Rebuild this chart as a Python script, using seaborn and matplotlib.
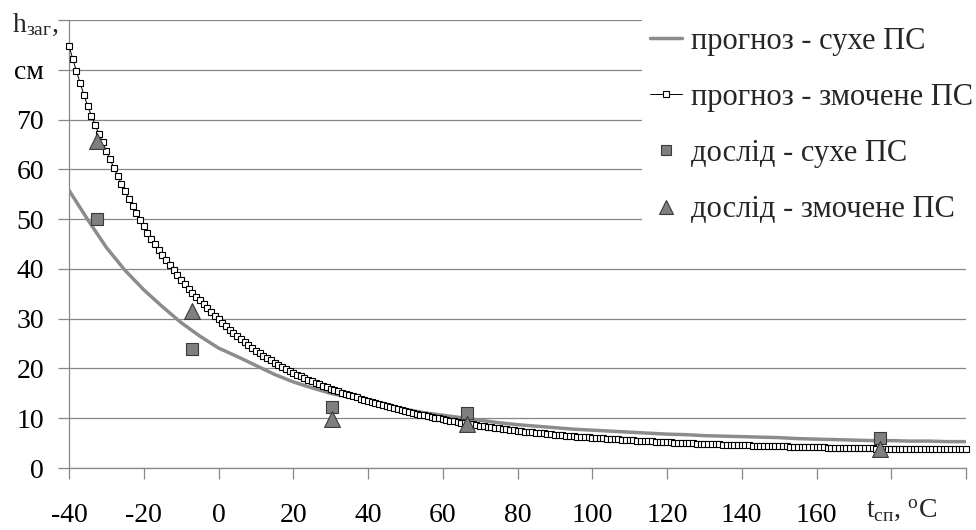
import matplotlib
matplotlib.use("Agg")
import matplotlib.pyplot as plt
import seaborn as sns
import pandas as pd
from matplotlib.lines import Line2D

# ---------------- data ----------------
t_wet = list(range(-40, 201))          # forecast, wetted surface: one point per degree
h_wet = [
    84.8, 82.2, 79.7, 77.3, 74.9, 72.7, 70.8, 68.9, 67.1, 65.4, 63.7,
    62.0, 60.3, 58.7, 57.1, 55.6, 54.1, 52.6, 51.2, 49.9, 48.6,
    47.3, 46.1, 44.9, 43.8, 42.8, 41.8, 40.8, 39.7, 38.7, 37.8,
    36.9, 36.0, 35.2, 34.4, 33.7, 32.9, 32.1, 31.3, 30.6, 29.9,
    29.2, 28.5, 27.8, 27.1, 26.5, 25.9, 25.3, 24.7, 24.2, 23.6,
    23.1, 22.6, 22.1, 21.6, 21.1, 20.7, 20.3, 19.9, 19.5, 19.1,
    18.7, 18.4, 18.0, 17.7, 17.4, 17.1, 16.8, 16.5, 16.2, 15.9,
    15.6, 15.4, 15.1, 14.9, 14.6, 14.4, 14.2, 13.9, 13.7, 13.5,
    13.3, 13.1, 12.9, 12.7, 12.5, 12.3, 12.1, 11.9, 11.7, 11.5,
    11.3, 11.1, 10.9, 10.7, 10.6, 10.4, 10.3, 10.1, 10.0, 9.8,
    9.7, 9.5, 9.4, 9.3, 9.1, 9.0, 8.9, 8.8, 8.6, 8.5,
    8.4, 8.3, 8.2, 8.1, 8.0, 7.9, 7.8, 7.7, 7.6, 7.5,
    7.4, 7.3, 7.3, 7.2, 7.1, 7.0, 7.0, 6.9, 6.8, 6.7,
    6.7, 6.6, 6.5, 6.5, 6.4, 6.3, 6.3, 6.2, 6.2, 6.1,
    6.1, 6.0, 6.0, 5.9, 5.9, 5.8, 5.8, 5.7, 5.7, 5.6,
    5.6, 5.5, 5.5, 5.4, 5.4, 5.4, 5.3, 5.3, 5.2, 5.2,
    5.2, 5.1, 5.1, 5.1, 5.0, 5.0, 5.0, 4.9, 4.9, 4.9,
    4.9, 4.8, 4.8, 4.8, 4.7, 4.7, 4.7, 4.7, 4.6, 4.6,
    4.6, 4.6, 4.5, 4.5, 4.5, 4.5, 4.5, 4.4, 4.4, 4.4,
    4.4, 4.4, 4.3, 4.3, 4.3, 4.3, 4.3, 4.2, 4.2, 4.2,
    4.2, 4.2, 4.1, 4.1, 4.1, 4.1, 4.1, 4.1, 4.0, 4.0,
    4.0, 4.0, 4.0, 4.0, 4.0, 3.9, 3.9, 3.9, 3.9, 3.9,
    3.9, 3.9, 3.9, 3.9, 3.8, 3.8, 3.8, 3.8, 3.8, 3.8,
    3.8, 3.8, 3.8, 3.8, 3.8, 3.8, 3.8, 3.8, 3.8, 3.8,
]

t_dry = list(range(-40, 201, 5))       # forecast, dry surface
h_dry = [
    55.8, 49.9, 44.3, 39.7, 35.8, 32.4, 29.2, 26.5, 24.1, 22.4,
    20.6, 18.8, 17.3, 16.1, 15.0, 14.2, 13.3, 12.5, 11.8, 11.1,
    10.6, 10.1, 9.6, 9.1, 8.7, 8.4, 8.1, 7.8, 7.6, 7.4,
    7.2, 7.0, 6.8, 6.7, 6.5, 6.4, 6.3, 6.2, 6.1, 5.9,
    5.8, 5.7, 5.6, 5.5, 5.5, 5.4, 5.4, 5.3, 5.3,
]

t_exp = [-32.5, -7, 30.5, 66.5, 177]
h_exp_dry = [50.0, 24.0, 12.3, 11.1, 6.1]
h_exp_wet = [65.6, 31.6, 9.8, 8.8, 3.9]

x_ticks = [-40, -20, 0, 20, 40, 60, 80, 100, 120, 140, 160, 180, 200]
x_ticklabels = ["-40", "-20", "0", "20", "40", "60", "80", "100", "120", "140", "160", "", ""]
y_ticks = [0, 10, 20, 30, 40, 50, 60, 70, 80, 90]
y_ticklabels = ["0", "10", "20", "30", "40", "50", "60", "70", "см", ""]

series_labels = ["прогноз - сухе ПС", "прогноз - змочене ПС",
                 "дослід - сухе ПС", "дослід - змочене ПС"]
y_title = r"h$_{\mathrm{заг}}$,"
x_title = r"t$_{\mathrm{сп}}$, $^{\mathrm{o}}$C"

# ---------------- style ----------------
sns.set_theme(style="white")
plt.rcParams["font.family"] = ["Liberation Serif", "DejaVu Serif"]
plt.rcParams["mathtext.fontset"] = "custom"
plt.rcParams["mathtext.rm"] = "Liberation Serif"
plt.rcParams["mathtext.it"] = "Liberation Serif:italic"
plt.rcParams["mathtext.bf"] = "Liberation Serif:bold"

FS = 20
LFS = 22
GRID = "#878787"
DRY = "#8c8c8c"
EXPF = "#7f7f7f"
EXPE = "#3a3a3a"

fig = plt.figure(figsize=(9.76, 5.30), dpi=100)
W, H = 976, 530
ax = fig.add_axes([69 / W, 1 - 468 / H, (966 - 69) / W, (468 - 20) / H])

df_wet = pd.DataFrame({"t": t_wet, "h": h_wet})
df_dry = pd.DataFrame({"t": t_dry, "h": h_dry})

sns.lineplot(data=df_dry, x="t", y="h", ax=ax, color=DRY, lw=2.5,
             estimator=None, zorder=3)
sns.lineplot(data=df_wet, x="t", y="h", ax=ax, color="black", lw=0.7,
             marker="s", markersize=4.2, markerfacecolor="white",
             markeredgecolor="black", markeredgewidth=0.8,
             estimator=None, zorder=4, clip_on=False)
sns.scatterplot(x=t_exp, y=h_exp_dry, ax=ax, marker="s", s=64, color=EXPF,
                edgecolor=EXPE, linewidth=0.8, zorder=5, clip_on=False)
sns.scatterplot(x=t_exp, y=h_exp_wet, ax=ax, marker="^", s=130, color=EXPF,
                edgecolor=EXPE, linewidth=0.8, zorder=6, clip_on=False)

ax.set_xlim(-40, 200)
ax.set_ylim(0, 90)
ax.set_xticks(x_ticks)
ax.set_xticklabels(x_ticklabels)
ax.set_yticks(y_ticks)
ax.set_yticklabels(y_ticklabels)
ax.set_xlabel("")
ax.set_ylabel("")

ax.yaxis.grid(True, color=GRID, lw=0.9)
ax.xaxis.grid(False)
ax.set_axisbelow(True)
for s in ["top", "right"]:
    ax.spines[s].set_visible(False)
for s in ["left", "bottom"]:
    ax.spines[s].set_color(GRID)
    ax.spines[s].set_linewidth(0.9)

ax.tick_params(axis="x", direction="out", length=8, width=0.9, color=GRID,
               labelsize=FS, pad=17, labelcolor="black", bottom=True)
ax.tick_params(axis="y", direction="out", length=8, width=0.9, color=GRID,
               labelsize=FS, pad=10, labelcolor="black", left=True)

# axis titles in the corner positions
fig.text(12 / W, 1 - 32 / H, y_title, fontsize=FS, ha="left", va="baseline")
fig.text(866 / W, 1 - 517 / H, x_title, fontsize=FS, ha="left", va="baseline")

# legend
handles = [
    Line2D([], [], color=DRY, lw=2.5),
    Line2D([], [], color="black", lw=0.7, marker="s", markersize=4.2,
           markerfacecolor="white", markeredgecolor="black", markeredgewidth=0.8),
    Line2D([], [], ls="none", marker="s", markersize=7.5, markerfacecolor=EXPF,
           markeredgecolor=EXPE, markeredgewidth=0.8),
    Line2D([], [], ls="none", marker="^", markersize=10.5, markerfacecolor=EXPF,
           markeredgecolor=EXPE, markeredgewidth=0.8),
]
leg = ax.legend(handles, series_labels, loc="upper left",
                bbox_to_anchor=(642 / W, 1 - 19 / H), bbox_transform=fig.transFigure,
                fontsize=LFS, frameon=True, fancybox=False, framealpha=1,
                facecolor="white", edgecolor="none", borderaxespad=0,
                borderpad=0.25, handlelength=1.05, handletextpad=0.3,
                labelspacing=0.89)
leg.set_zorder(10)

fig.savefig("out.png", dpi=100, facecolor="white")
